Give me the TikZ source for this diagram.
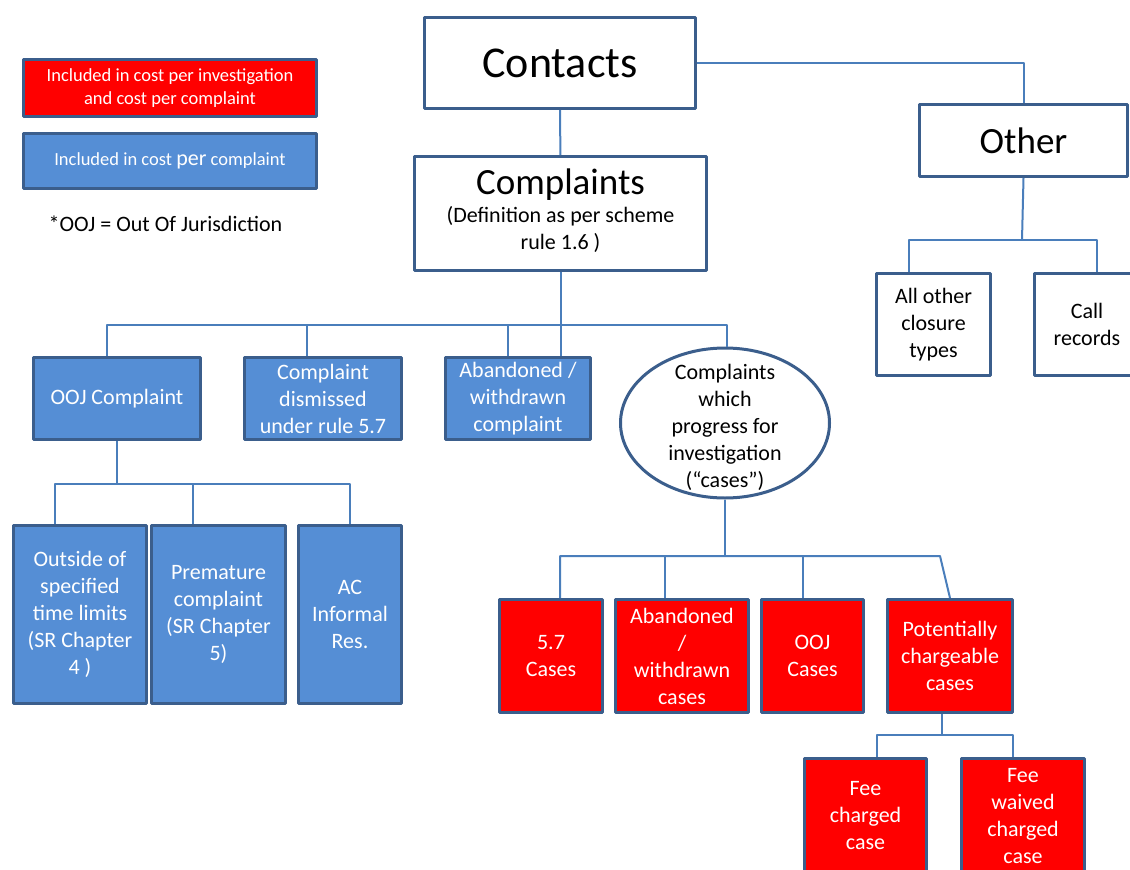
\documentclass[tikz,border=0pt]{standalone}
\usepackage{fontspec}
\setmainfont{Carlito}
\usetikzlibrary{shapes.geometric,calc}
\definecolor{boxblue}{HTML}{558ED5}
\definecolor{edgeblue}{HTML}{3B5E8C}
\definecolor{linkblue}{HTML}{4A7EBB}
\definecolor{boxred}{HTML}{FF0000}
\tikzset{
  basebox/.style={draw=edgeblue, line width=3pt, align=center, inner sep=1pt,
    font=\fontsize{22}{27}\selectfont},
  whitebox/.style={basebox, fill=white, text=black},
  bluebox/.style={basebox, fill=boxblue, text=white},
  redbox/.style={basebox, fill=boxred, text=white},
  link/.style={draw=linkblue, line width=2pt},
}
\begin{document}
\begin{tikzpicture}[x=1pt, y=-1pt, line join=round]
  \useasboundingbox (0,0) rectangle (1130,870);
  % legend
  \node[redbox, minimum width=293pt, minimum height=57pt, font=\fontsize{18.5}{23}\selectfont]
    (legred) at (170,88) {Included in cost per investigation\\ and cost per complaint};
  \node[bluebox, minimum width=293pt, minimum height=55pt, font=\fontsize{18.5}{23}\selectfont]
    (legblue) at (170,161) {\raisebox{-2pt}{Included in cost {\fontsize{22}{23}\selectfont per} complaint}};
  \node[font=\fontsize{22}{27}\selectfont] (note) at (165.5,224) {*OOJ = Out Of Jurisdiction};
  % top of the tree
  \node[whitebox, minimum width=271pt, minimum height=91pt, font=\fontsize{44}{50}\selectfont]
    (contacts) at (560,63) {Contacts};
  \node[whitebox, minimum width=292pt, minimum height=114pt]
    (complaints) at (560.5,213.5) {\raisebox{4pt}{\begin{tabular}{@{}c@{}}
    {\fontsize{37}{40}\selectfont Complaints}\\[1pt]
    (Definition as per scheme\\ rule 1.6 )\end{tabular}}};
  \node[whitebox, minimum width=208pt, minimum height=72pt, font=\fontsize{37}{40}\selectfont]
    (other) at (1023.5,140.5) {Other};
  \node[whitebox, minimum width=114pt, minimum height=102pt]
    (allother) at (933.5,324.5) {All other\\ closure\\ types};
  \node[whitebox, minimum width=105pt, minimum height=102pt]
    (callrec) at (1087,324.5) {Call\\ records};
  % complaints row
  \node[bluebox, minimum width=167pt, minimum height=82pt]
    (oojc) at (117,398.5) {OOJ Complaint};
  \node[bluebox, minimum width=157pt, minimum height=82pt]
    (dismiss) at (323,398.5) {Complaint\\ dismissed\\ under rule 5.7};
  \node[bluebox, minimum width=145pt, minimum height=82pt]
    (abandon) at (518,398.5) {Abandoned /\\ withdrawn\\ complaint};
  \node[whitebox, ellipse, minimum width=209pt, minimum height=150pt, inner sep=0pt]
    (ellip) at (725,423) {\smash{\raisebox{-10pt}{\begin{tabular}{@{}c@{}}Complaints\\ which\\
    progress for\\ investigation\\ (“cases”)\end{tabular}}}};
  % out of jurisdiction split
  \node[bluebox, minimum width=133pt, minimum height=178pt]
    (outside) at (80,614.5) {Outside of\\ specified\\ time limits\\ (SR Chapter\\ 4 )};
  \node[bluebox, minimum width=134pt, minimum height=178pt]
    (premature) at (218.5,614.5) {Premature\\ complaint\\ (SR Chapter\\ 5)};
  \node[bluebox, minimum width=103pt, minimum height=178pt]
    (acinf) at (350,614.5) {AC\\ Informal\\ Res.};
  % cases row
  \node[redbox, minimum width=103pt, minimum height=113pt]
    (cases57) at (551,656) {5.7\\ Cases};
  \node[redbox, minimum width=133pt, minimum height=113pt]
    (abcases) at (682,656) {Abandoned\\ /\\ withdrawn\\ cases};
  \node[redbox, minimum width=102pt, minimum height=113pt]
    (oojcases) at (812.5,656) {OOJ\\ Cases};
  \node[redbox, minimum width=125pt, minimum height=113pt]
    (potch) at (950,656) {Potentially\\ chargeable\\ cases};
  \node[redbox, minimum width=122pt, minimum height=115pt]
    (feech) at (865.5,816) {Fee\\ charged\\ case};
  \node[redbox, minimum width=123pt, minimum height=115pt]
    (feewv) at (1023,816) {Fee\\ waived\\ charged\\ case};
  % connectors
  \coordinate (topbus) at (560.5,325);
  \coordinate (otherbus) at (1022,240);
  \coordinate (oojbus) at (118,484);
  \coordinate (casebus) at (725,556);
  \coordinate (casebusend) at (940,556);
  \coordinate (feebus) at (942,735);
  \draw[link] (contacts) -- (complaints);
  \draw[link] (contacts.east) -| (other.north);
  \draw[link] (other.south) -- (otherbus);
  \draw[link] ($(allother.north)+(-24.5,0)$) |- (otherbus) -| ($(callrec.north)+(10,0)$);
  \draw[link] (complaints.south) -- (complaints.south |- abandon.north);
  \draw[link] ($(oojc.north)+(-10,0)$) |- (topbus) -| ($(ellip.north)+(2,0)$);
  \draw[link] ($(dismiss.north)+(-16,0)$) |- (topbus);
  \draw[link] ($(abandon.north)+(-10,0)$) |- (topbus);
  \draw[link] (oojc.south) -- (oojc.south |- oojbus);
  \draw[link] ($(outside.north)+(-25,0)$) |- (oojbus) -| (acinf.north);
  \draw[link] ($(premature.north)+(-26,0)$) |- (oojbus);
  \draw[link] (ellip.south) -- (casebus);
  \draw[link] ($(cases57.north)+(9,0)$) |- (casebus) -- (casebusend) -- (potch.north);
  \draw[link] ($(abcases.north)+(-17,0)$) |- (casebus);
  \draw[link] ($(oojcases.north)+(-10,0)$) |- (casebus);
  \draw[link] ($(potch.south)+(-8,0)$) -- (feebus);
  \draw[link] ($(feech.north)+(11,0)$) |- (feebus) -| ($(feewv.north)+(-10,0)$);
\end{tikzpicture}
\end{document}
